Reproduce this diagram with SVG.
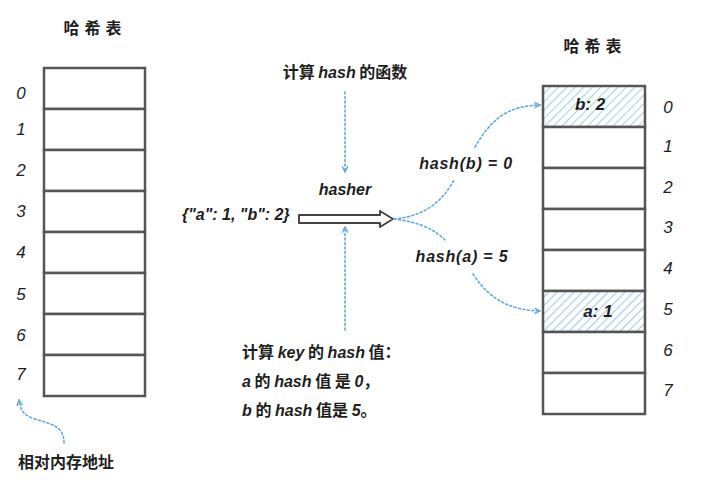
<svg xmlns="http://www.w3.org/2000/svg" width="702" height="491" viewBox="0 0 702 491">
<defs>
<style>
.cell{fill:#fff;stroke:#555;stroke-width:2.5}
.t{font-family:"Liberation Sans","Noto Sans CJK SC",sans-serif;fill:#1e1e1e;font-size:16px}
.it{font-style:italic}
.zh{font-family:"Noto Sans CJK SC",sans-serif;font-weight:bold;font-style:normal}
.num{font-family:"Liberation Sans",sans-serif;font-style:italic;font-size:17px;fill:#1e1e1e;text-anchor:middle;dominant-baseline:central}
.dot{fill:none;stroke:#5fa8e0;stroke-width:1.6;stroke-dasharray:2 2.5;stroke-linecap:round}
</style>
<pattern id="hatchA" width="6" height="6" patternUnits="userSpaceOnUse" patternTransform="rotate(45)">
<rect width="6" height="6" fill="#fff"/>
<line x1="0" y1="0" x2="0" y2="6" stroke="#a3d8d9" stroke-width="2.2"/>
</pattern>
<pattern id="hatchB" width="6" height="6" patternUnits="userSpaceOnUse" patternTransform="rotate(45)">
<rect width="6" height="6" fill="#fff"/>
<line x1="0" y1="0" x2="0" y2="6" stroke="#a3caee" stroke-width="2.2"/>
</pattern>
<marker id="ah" viewBox="0 0 10 10" refX="9" refY="5" markerWidth="7" markerHeight="7" orient="auto-start-reverse" markerUnits="userSpaceOnUse">
<path d="M1,1 L9,5 L1,9" fill="none" stroke="#5fa8e0" stroke-width="2"/>
</marker>
</defs>
<rect width="702" height="491" fill="#fff"/>

<g id="left-table">
<text class="t zh" x="95" y="34" text-anchor="middle" font-size="17" letter-spacing="5">哈希表</text>
<rect class="cell" x="44" y="68" width="101" height="41"/>
<rect class="cell" x="44" y="109" width="101" height="41"/>
<rect class="cell" x="44" y="150" width="101" height="41"/>
<rect class="cell" x="44" y="191" width="101" height="41"/>
<rect class="cell" x="44" y="232" width="101" height="41"/>
<rect class="cell" x="44" y="273" width="101" height="41"/>
<rect class="cell" x="44" y="314" width="101" height="41"/>
<rect class="cell" x="44" y="355" width="101" height="41"/>
<text class="num" x="21" y="93">0</text>
<text class="num" x="21" y="129">1</text>
<text class="num" x="21" y="170">2</text>
<text class="num" x="21" y="211">3</text>
<text class="num" x="21" y="252">4</text>
<text class="num" x="21" y="294">5</text>
<text class="num" x="21" y="335">6</text>
<text class="num" x="21" y="374">7</text>
</g>

<g id="right-table">
<text class="t zh" x="595" y="52" text-anchor="middle" font-size="17" letter-spacing="5">哈希表</text>
<rect class="cell" x="543" y="86" width="102" height="41" style="fill:url(#hatchA)"/>
<rect class="cell" x="543" y="127" width="102" height="41"/>
<rect class="cell" x="543" y="168" width="102" height="41"/>
<rect class="cell" x="543" y="209" width="102" height="41"/>
<rect class="cell" x="543" y="250" width="102" height="41"/>
<rect class="cell" x="543" y="291" width="102" height="41" style="fill:url(#hatchB)"/>
<rect class="cell" x="543" y="332" width="102" height="41"/>
<rect class="cell" x="543" y="373" width="102" height="41"/>
<text class="num" x="590" y="104" font-weight="bold" font-size="20">b: 2</text>
<text class="num" x="598" y="311" font-weight="bold" font-size="20">a: 1</text>
<text class="num" x="668" y="107">0</text>
<text class="num" x="668" y="146">1</text>
<text class="num" x="668" y="187">2</text>
<text class="num" x="668" y="227">3</text>
<text class="num" x="668" y="268">4</text>
<text class="num" x="668" y="309">5</text>
<text class="num" x="668" y="350">6</text>
<text class="num" x="668" y="390">7</text>
</g>

<g id="hasher">
<text class="t it" x="345" y="195" text-anchor="middle" font-weight="bold" font-size="17">hasher</text>
<path d="M299,215 L380,215 L380,211 L393,219 L380,227 L380,223 L299,223 Z" fill="#fff" stroke="#444" stroke-width="2" stroke-linejoin="round"/>
</g>

<g id="input">
<text class="t it" x="182" y="220" font-weight="bold">{"a": 1, "b": 2}</text>
</g>

<g id="labels">
<text class="t" x="345" y="78" text-anchor="middle" font-size="13"><tspan class="zh">计算 </tspan><tspan class="it" font-weight="bold">hash</tspan><tspan class="zh"> 的函数</tspan></text>
<text class="t it" x="466" y="169" text-anchor="middle" font-weight="bold" font-size="17" letter-spacing="0.8">hash(b) = 0</text>
<text class="t it" x="462" y="262" text-anchor="middle" font-weight="bold" font-size="17" letter-spacing="0.8">hash(a) = 5</text>
<text class="t" x="242" y="358" font-size="16"><tspan class="zh">计算 </tspan><tspan class="it" font-weight="bold">key</tspan><tspan class="zh"> 的 </tspan><tspan class="it" font-weight="bold">hash</tspan><tspan class="zh"> 值：</tspan></text>
<text class="t" x="242" y="387" font-size="16"><tspan class="it" font-weight="bold">a</tspan><tspan class="zh"> 的 </tspan><tspan class="it" font-weight="bold">hash</tspan><tspan class="zh"> 值 是 </tspan><tspan class="it" font-weight="bold">0</tspan><tspan class="zh">，</tspan></text>
<text class="t" x="242" y="416" font-size="16"><tspan class="it" font-weight="bold">b</tspan><tspan class="zh"> 的 </tspan><tspan class="it" font-weight="bold">hash</tspan><tspan class="zh"> 值是 </tspan><tspan class="it" font-weight="bold">5</tspan><tspan class="zh">。</tspan></text>
<text class="t zh" x="18" y="468" font-size="13" letter-spacing="0">相对内存地址</text>
</g>

<g id="connectors">
<path class="dot" d="M345,92 L345,172" marker-end="url(#ah)"/>
<path class="dot" d="M345,330 L345,227" marker-end="url(#ah)"/>
<path class="dot" d="M394,219 C430,216 446,195 454,180"/>
<path class="dot" d="M475,147 C492,118 508,106 540,105" marker-end="url(#ah)"/>
<path class="dot" d="M394,219 C420,222 435,230 445,240"/>
<path class="dot" d="M473,274 C490,300 510,310 540,311" marker-end="url(#ah)"/>
<path class="dot" d="M64,443 C64,425 50,424 32,418 C22,414 20,408 19,400" marker-end="url(#ah)"/>
</g>
</svg>
